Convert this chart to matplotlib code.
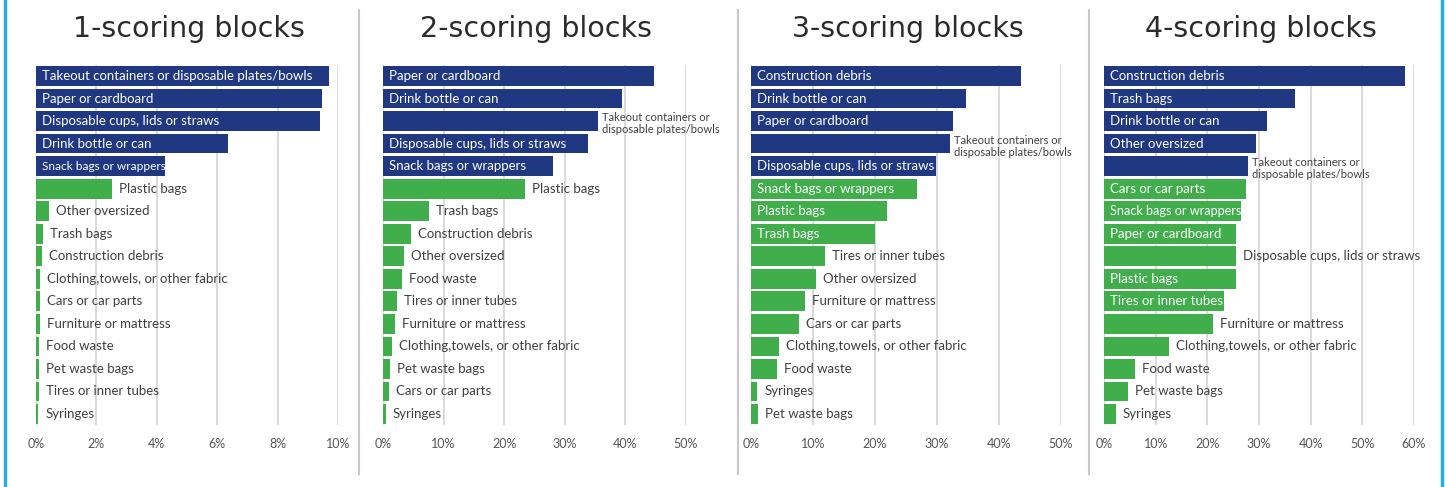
import matplotlib
matplotlib.use("Agg")
import matplotlib.pyplot as plt
from matplotlib.lines import Line2D

plt.rcParams["font.family"] = ["Lato", "DejaVu Sans"]

# share of blocks (%) in which each item was found, by scoring level
blocks1_items = [
    "Takeout containers or disposable plates/bowls", "Paper or cardboard",
    "Disposable cups, lids or straws", "Drink bottle or can", "Snack bags or wrappers",
    "Plastic bags", "Other oversized", "Trash bags", "Construction debris",
    "Clothing,towels, or other fabric", "Cars or car parts", "Furniture or mattress",
    "Food waste", "Pet waste bags", "Tires or inner tubes", "Syringes",
]
blocks1_values = [9.70, 9.47, 9.40, 6.36, 4.27, 2.52, 0.43, 0.23, 0.20,
                  0.13, 0.13, 0.13, 0.10, 0.10, 0.10, 0.07]

blocks2_items = [
    "Paper or cardboard", "Drink bottle or can",
    "Takeout containers or disposable plates/bowls", "Disposable cups, lids or straws",
    "Snack bags or wrappers", "Plastic bags", "Trash bags", "Construction debris",
    "Other oversized", "Food waste", "Tires or inner tubes", "Furniture or mattress",
    "Clothing,towels, or other fabric", "Pet waste bags", "Cars or car parts", "Syringes",
]
blocks2_values = [44.8, 39.5, 35.5, 33.8, 28.0, 23.4, 7.6, 4.6,
                  3.5, 3.2, 2.3, 2.0, 1.5, 1.2, 1.0, 0.5]

blocks3_items = [
    "Construction debris", "Drink bottle or can", "Paper or cardboard",
    "Takeout containers or disposable plates/bowls", "Disposable cups, lids or straws",
    "Snack bags or wrappers", "Plastic bags", "Trash bags", "Tires or inner tubes",
    "Other oversized", "Furniture or mattress", "Cars or car parts",
    "Clothing,towels, or other fabric", "Food waste", "Syringes", "Pet waste bags",
]
blocks3_values = [43.5, 34.7, 32.6, 32.1, 29.9, 26.7, 22.0, 20.0,
                  12.0, 10.5, 8.7, 7.8, 4.5, 4.2, 1.0, 1.1]

blocks4_items = [
    "Construction debris", "Trash bags", "Drink bottle or can", "Other oversized",
    "Takeout containers or disposable plates/bowls", "Cars or car parts",
    "Snack bags or wrappers", "Paper or cardboard", "Disposable cups, lids or straws",
    "Plastic bags", "Tires or inner tubes", "Furniture or mattress",
    "Clothing,towels, or other fabric", "Food waste", "Pet waste bags", "Syringes",
]
blocks4_values = [58.3, 37.0, 31.5, 29.4, 27.9, 27.5, 26.5, 25.5,
                  25.5, 25.5, 23.2, 21.1, 12.5, 6.0, 4.6, 2.3]

titles = ["1-scoring blocks", "2-scoring blocks", "3-scoring blocks", "4-scoring blocks"]
x_max = [10, 50, 50, 60]
x_step = [2, 10, 10, 10]

NAVY = "#203782"
GREEN = "#3fae4b"
TEXT = "#404040"
TOP_N = 5
W, H = 1445, 487

panels = [
    (blocks1_items, blocks1_values),
    (blocks2_items, blocks2_values),
    (blocks3_items, blocks3_values),
    (blocks4_items, blocks4_values),
]

# which labels are written inside their bar (the rest sit to the right)
label_inside = [
    {"Takeout containers or disposable plates/bowls", "Paper or cardboard",
     "Disposable cups, lids or straws", "Drink bottle or can", "Snack bags or wrappers"},
    {"Paper or cardboard", "Drink bottle or can", "Disposable cups, lids or straws",
     "Snack bags or wrappers"},
    {"Construction debris", "Drink bottle or can", "Paper or cardboard",
     "Disposable cups, lids or straws", "Snack bags or wrappers", "Plastic bags",
     "Trash bags"},
    {"Construction debris", "Trash bags", "Drink bottle or can", "Other oversized",
     "Cars or car parts", "Snack bags or wrappers", "Paper or cardboard",
     "Plastic bags", "Tires or inner tubes"},
]

# pixel extents of the value axis (0 .. x_max) in each panel
x_pix = [(36, 338), (383, 686), (751, 1061), (1104, 1414)]
y_top, y_bot = 64.7, 425.3

fig = plt.figure(figsize=(W / 100, H / 100), dpi=100)
renderer = fig.canvas.get_renderer()

label_size = 9.5

for i, (items, values) in enumerate(panels):
    x0, x1 = x_pix[i]
    ax = fig.add_axes([x0 / W, 1 - y_bot / H, (x1 - x0) / W, (y_bot - y_top) / H])
    pos = list(range(len(items)))
    colors = [NAVY if k < TOP_N else GREEN for k in pos]
    ax.barh(pos, values, height=0.88, color=colors, zorder=2)
    ax.set_xlim(0, x_max[i])
    ax.set_ylim(len(items) - 0.5, -0.5)
    ax.set_yticks([])
    ticks = list(range(0, x_max[i] + 1, x_step[i]))
    ax.set_xticks(ticks)
    ax.set_xticklabels([f"{t}%" for t in ticks], color="#555555", fontsize=9)
    ax.tick_params(axis="x", length=0, pad=9)
    ax.grid(axis="x", color="#d9d9d9", linewidth=1.4, zorder=0)
    ax.set_axisbelow(True)
    for s in ax.spines.values():
        s.set_visible(False)

    px_per_unit = (x1 - x0) / x_max[i]
    for k, (name, v) in enumerate(zip(items, values)):
        if name in label_inside[i]:
            t = ax.annotate(name, (0, k), xytext=(4, 0), textcoords="offset points",
                            va="center", ha="left", color="white",
                            fontsize=label_size, zorder=3)
            # shrink the text a little when it would run past the bar end
            w = t.get_window_extent(renderer).width
            room = v * px_per_unit - 6
            if w > room:
                t.set_fontsize(label_size * room / w)
        elif name.startswith("Takeout"):
            ax.annotate("Takeout containers or\ndisposable plates/bowls", (v, k),
                        xytext=(3, -2), textcoords="offset points", va="center",
                        ha="left", color=TEXT, fontsize=8, linespacing=1.1, zorder=3)
        else:
            ax.annotate(name, (v, k), xytext=(5, 0), textcoords="offset points",
                        va="center", ha="left", color=TEXT, fontsize=label_size, zorder=3)

    fig.text(((x0 + x1) / 2 + 2) / W, 1 - 37 / H, titles[i], ha="center",
             va="baseline", fontsize=20.5, color="#2b2b2b", family="DejaVu Sans")

# panel separators and outer frame
for xs in (359, 738, 1089):
    fig.add_artist(Line2D([xs / W, xs / W], [1 - 10 / H, 1 - 474 / H],
                          color="#c8c8c8", linewidth=1.5))
for xs in (5, 1442):
    fig.add_artist(Line2D([xs / W, xs / W], [0, 1], color="#29abe2", linewidth=2.5))

fig.savefig("out.png", dpi=100, facecolor="white")
